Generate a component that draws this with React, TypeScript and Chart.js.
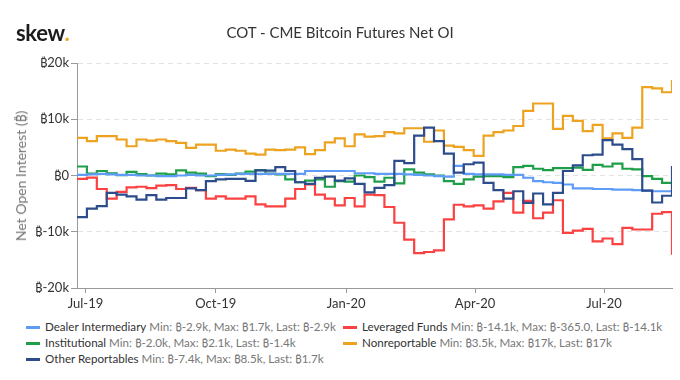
import React, { useEffect, useRef } from "react";
import { Chart, registerables } from "chart.js";

Chart.register(...registerables);

// Weekly COT report dates (Tuesdays)
const dates = [
  "2019-06-25", "2019-07-02", "2019-07-09", "2019-07-16", "2019-07-23", "2019-07-30",
  "2019-08-06", "2019-08-13", "2019-08-20", "2019-08-27", "2019-09-03", "2019-09-10",
  "2019-09-17", "2019-09-24", "2019-10-01", "2019-10-08", "2019-10-15", "2019-10-22",
  "2019-10-29", "2019-11-05", "2019-11-12", "2019-11-19", "2019-11-26", "2019-12-03",
  "2019-12-10", "2019-12-17", "2019-12-24", "2019-12-31", "2020-01-07", "2020-01-14",
  "2020-01-21", "2020-01-28", "2020-02-04", "2020-02-11", "2020-02-18", "2020-02-25",
  "2020-03-03", "2020-03-10", "2020-03-17", "2020-03-24", "2020-03-31", "2020-04-07",
  "2020-04-14", "2020-04-21", "2020-04-28", "2020-05-05", "2020-05-12", "2020-05-19",
  "2020-05-26", "2020-06-02", "2020-06-09", "2020-06-16", "2020-06-23", "2020-06-30",
  "2020-07-07", "2020-07-14", "2020-07-21", "2020-07-28", "2020-08-04", "2020-08-11",
  "2020-08-18",
];

// Values in thousands of BTC
const dealerIntermediary = [
  0.1, 0.2, 0.3, 0.2, 0.1, 0.1, 0.0, 0.0, -0.1, -0.1,
  0.0, 0.1, 0.0, 0.0, 0.1, 0.2, 0.3, 0.3, 0.3, 0.3,
  0.3, 0.3, 0.3, 0.8, 0.8, 0.8, 0.8, 0.8, 0.4, 0.4,
  0.3, 0.3, 0.3, 0.2, 0.1, 0.0, -0.1, -0.2, 1.7, 0.3,
  0.2, 0.2, 0.2, 0.1, 0.1, -0.4, -1.0, -1.2, -1.3, -1.6,
  -2.3, -2.3, -2.4, -2.4, -2.5, -2.5, -2.6, -2.7, -2.8, -2.8,
  -2.9,
];

const leveragedFunds = [
  -0.6, -0.365, -2.4, -4.1, -2.9, -2.1, -2.0, -2.25, -1.8, -1.7,
  -2.4, -2.2, -2.6, -4.1, -3.7, -4.1, -4.1, -3.7, -5.15, -5.5,
  -5.5, -4.1, -2.4, -1.6, -3.4, -4.1, -5.3, -4.0, -5.5, -3.4,
  -3.5, -5.6, -8.4, -11.4, -13.8, -13.6, -13.3, -7.8, -5.2, -5.5,
  -5.3, -5.9, -4.6, -3.1, -6.6, -4.5, -7.6, -6.6, -4.4, -10.2,
  -9.8, -9.5, -11.7, -11.2, -12.2, -9.3, -9.6, -9.6, -6.8, -6.5,
  -14.1,
];

const institutional = [
  1.6, 0.35, 0.8, 0.4, 0.05, 0.65, 0.25, 0.0, 0.35, 0.2,
  0.9, 0.5, 0.35, -0.1, 0.25, 0.1, 0.35, 0.7, 0.95, 0.35,
  0.2, -0.7, -1.2, -0.9, -0.7, -2.0, -1.0, -1.1, 0.0, -0.3,
  -1.1, -0.4, -1.4, 1.1, 0.5, 0.2, 0.0, -1.0, -1.5, -0.7,
  -0.2, -0.1, -0.1, -0.3, 1.5, 1.7, 1.2, 0.95, 1.3, 1.3,
  1.4, 1.0, 1.9, 1.6, 2.1, 1.2, 1.1, -0.1, -0.6, -1.3,
  -1.4,
];

const nonreportable = [
  6.7, 6.1, 7.0, 7.0, 6.4, 5.2, 6.4, 6.2, 6.4, 6.1,
  5.8, 4.9, 5.5, 5.5, 4.4, 4.6, 4.4, 3.9, 3.7, 4.6,
  4.5, 4.6, 5.0, 3.8, 4.5, 5.9, 6.6, 5.2, 7.3, 6.9,
  7.0, 7.7, 7.5, 8.4, 8.4, 6.0, 8.0, 5.3, 5.1, 4.5,
  3.5, 7.1, 7.7, 8.0, 8.8, 11.5, 12.8, 12.8, 8.3, 10.6,
  9.7, 7.9, 9.0, 6.6, 7.5, 6.7, 8.5, 15.7, 15.5, 14.8,
  17.0,
];

const otherReportables = [
  -7.4, -5.9, -5.45, -3.1, -3.4, -3.7, -4.3, -3.5, -4.3, -4.0,
  -4.0, -2.3, -2.6, -1.0, -0.7, -0.6, -0.6, -0.95, 0.9, 0.85,
  1.5, 0.8, -1.2, -1.5, -0.4, -0.2, -0.9, -0.5, -1.5, -3.0,
  -2.2, -1.7, 2.6, 2.2, 7.1, 8.5, 6.1, 3.9, 0.5, 2.0,
  2.3, -1.3, -2.6, -4.1, -2.8, -4.85, -3.2, -5.15, -3.1, 0.8,
  1.8, 3.6, 3.7, 6.3, 5.5, 4.7, 2.9, -2.7, -4.8, -3.6,
  1.7,
];

const xTickDates = ["2019-07-01", "2019-10-01", "2020-01-01", "2020-04-01", "2020-07-01"];
const xTickLabels = ["Jul-19", "Oct-19", "Jan-20", "Apr-20", "Jul-20"];
const yTickValues = [-20, -10, 0, 10, 20];
const yTickLabels = ["₿-20k", "₿-10k", "₿0", "₿10k", "₿20k"];

const seriesNames = ["Dealer Intermediary", "Leveraged Funds", "Institutional", "Nonreportable", "Other Reportables"];
const seriesColors = ["#5e9cf7", "#fb4141", "#1f9e48", "#eda31f", "#2c4c8c"];
const seriesStats = [
  "Min: ₿-2.9k, Max: ₿1.7k, Last: ₿-2.9k",
  "Min: ₿-14.1k, Max: ₿-365.0, Last: ₿-14.1k",
  "Min: ₿-2.0k, Max: ₿2.1k, Last: ₿-1.4k",
  "Min: ₿3.5k, Max: ₿17k, Last: ₿17k",
  "Min: ₿-7.4k, Max: ₿8.5k, Last: ₿1.7k",
];

const FONT = 'Lato, "DejaVu Sans", "Noto Sans", sans-serif';

export default function App() {
  const canvasRef = useRef<HTMLCanvasElement | null>(null);

  useEffect(() => {
    document.body.style.margin = "0";
    const canvas = canvasRef.current;
    if (!canvas) return;
    const t0 = Date.parse(dates[0]);
    const toDay = (s: string) => (Date.parse(s) - t0) / 86400000;
    const xs = dates.map(toDay);
    const tickXs = xTickDates.map(toDay);
    const xMax = xs[xs.length - 1];

    const allSeries = [dealerIntermediary, leveragedFunds, institutional, nonreportable, otherReportables];
    const drawOrder = [1, 4, 2, 3, 0];

    Chart.defaults.font.family = FONT;

    const chart = new Chart(canvas, {
      type: "line",
      data: {
        datasets: allSeries.map((vals, k) => ({
          label: seriesNames[k],
          data: vals.map((v, i) => ({ x: xs[i], y: v })),
          borderColor: seriesColors[k],
          backgroundColor: seriesColors[k],
          borderWidth: 2.2,
          pointRadius: 0,
          pointHoverRadius: 0,
          stepped: true,
          fill: false,
          order: drawOrder[k],
        })),
      },
      options: {
        animation: false,
        responsive: false,
        maintainAspectRatio: false,
        events: [],
        layout: { padding: { top: 63, right: 8, left: 0, bottom: 0 } },
        plugins: {
          legend: { display: false },
          tooltip: { enabled: false },
          title: { display: false },
        },
        scales: {
          x: {
            type: "linear",
            min: 0,
            max: xMax,
            afterBuildTicks: (s: any) => {
              s.ticks = tickXs.map((v) => ({ value: v }));
            },
            afterFit: (s: any) => {
              s.height = 22;
            },
            ticks: {
              autoSkip: false,
              maxRotation: 0,
              color: "#333",
              font: { size: 13, family: FONT },
              padding: 3,
              callback: (v: any) => {
                const idx = tickXs.indexOf(Number(v));
                return idx >= 0 ? xTickLabels[idx] : "";
              },
            },
            grid: { drawOnChartArea: false, drawTicks: true, tickLength: 5, tickColor: "#999", tickWidth: 1 },
            border: { color: "#999", width: 1 },
          },
          y: {
            min: -20,
            max: 20,
            afterBuildTicks: (s: any) => {
              s.ticks = yTickValues.map((v) => ({ value: v }));
            },
            afterFit: (s: any) => {
              s.width = 77;
            },
            ticks: {
              color: "#333",
              font: { size: 13, family: FONT },
              padding: 2,
              callback: (v: any) => {
                const idx = yTickValues.indexOf(Number(v));
                return idx >= 0 ? yTickLabels[idx] : "";
              },
            },
            grid: {
              color: "#e3e3e3",
              lineWidth: 1,
              tickColor: "#999",
              tickLength: 6,
              tickBorderDash: [],
            },
            border: { color: "#999", width: 1, dash: [5, 4] },
          },
        },
      },
    } as any);

    return () => chart.destroy();
  }, []);

  const legendItems = [
    { k: 0, left: 26, top: 327 },
    { k: 1, left: 343, top: 327 },
    { k: 2, left: 26, top: 343 },
    { k: 3, left: 343, top: 343 },
    { k: 4, left: 26, top: 359 },
  ];

  return (
    <div
      style={{
        position: "relative",
        width: 680,
        height: 380,
        background: "#fff",
        fontFamily: FONT,
        overflow: "hidden",
      }}
    >
      <canvas
        ref={canvasRef}
        width={680}
        height={310}
        style={{ position: "absolute", left: 0, top: 0, width: 680, height: 310 }}
      />
      <div
        style={{
          position: "absolute",
          left: 16,
          top: 22,
          fontSize: 22,
          lineHeight: "22px",
          fontWeight: 700,
          color: "#1c1c1c",
          letterSpacing: "-0.3px",
        }}
      >
        skew<span style={{ color: "#f5a623" }}>.</span>
      </div>
      <div
        style={{
          position: "absolute",
          left: 0,
          width: 680,
          top: 25,
          textAlign: "center",
          fontSize: 15,
          lineHeight: "15px",
          color: "#333",
        }}
      >
        COT - CME Bitcoin Futures Net OI
      </div>
      <div
        style={{
          position: "absolute",
          left: 21,
          top: 176,
          transform: "translate(-50%, -50%) rotate(-90deg)",
          whiteSpace: "nowrap",
          fontSize: 14,
          lineHeight: "14px",
          color: "#777",
        }}
      >
        Net Open Interest (₿)
      </div>
      {legendItems.map(({ k, left, top }) => (
        <div
          key={k}
          style={{
            position: "absolute",
            left,
            top: top - 8,
            height: 16,
            display: "flex",
            alignItems: "center",
            whiteSpace: "nowrap",
            fontSize: 11.6,
            lineHeight: "16px",
          }}
        >
          <span
            style={{
              display: "inline-block",
              width: 14,
              height: 3,
              background: seriesColors[k],
              marginRight: 5,
            }}
          />
          <span style={{ color: "#333" }}>{seriesNames[k]}</span>
          <span style={{ color: "#777", marginLeft: 3 }}>{seriesStats[k]}</span>
        </div>
      ))}
    </div>
  );
}
